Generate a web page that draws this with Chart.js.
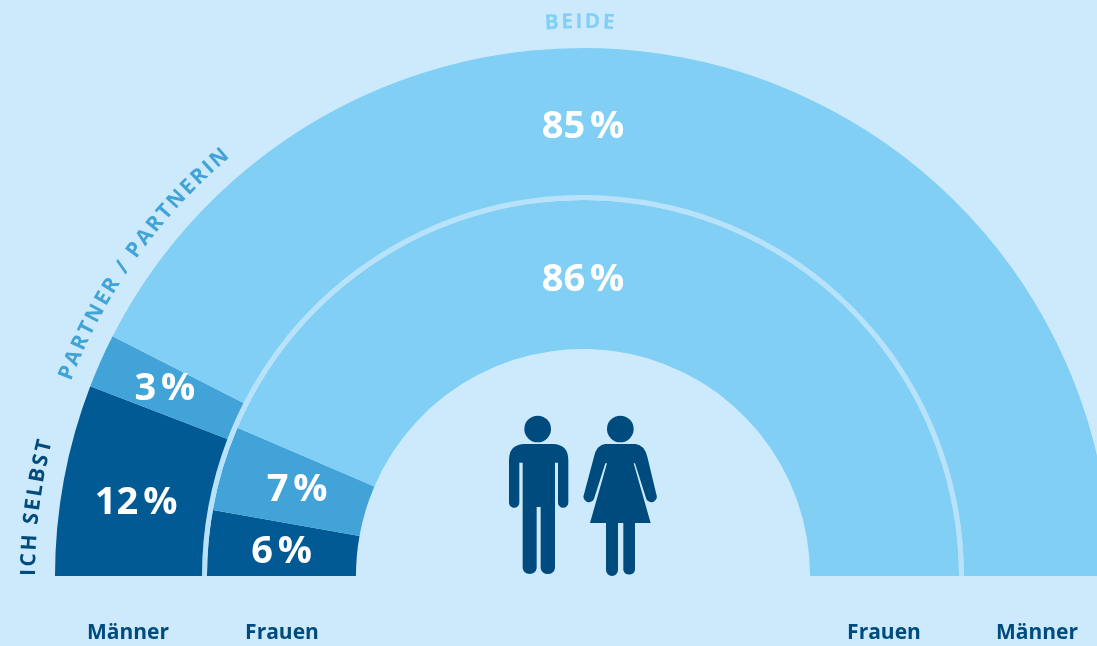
<!DOCTYPE html>
<html lang="de">
<head>
<meta charset="utf-8">
<style>
html,body{margin:0;padding:0;background:#cdeafd;overflow:hidden}
#wrap{position:relative;width:1097px;height:646px;overflow:hidden;background:#cdeafd}
#box{position:absolute;left:0;top:0;width:1166px;height:646px}
svg{position:absolute;left:0;top:0}
.c{font-family:"Open Sans",sans-serif;font-weight:700;font-size:21px;letter-spacing:2.3px}
</style>
</head>
<body>
<div id="wrap">
<div id="box"><canvas id="c"></canvas></div>
<svg width="1097" height="646" viewBox="0 0 1097 646">
  <defs><path id="arc" d="M35 576 A548 548 0 0 1 1131 576" fill="none"/></defs>
  <text class="c" fill="#004b7d"><textPath href="#arc" startOffset="0">ICH SELBST</textPath></text>
  <text class="c" fill="#41a3d7"><textPath href="#arc" startOffset="199">PARTNER / PARTNERIN</textPath></text>
  <text class="c" fill="#81cff5" text-anchor="middle"><textPath href="#arc" startOffset="49.87%">BEIDE</textPath></text>
  <g transform="translate(490 400) scale(0.3333)" fill="#004b7d">
    <circle cx="143" cy="87" r="40"/>
    <path d="M100 132H192Q235 135 235 180V308A15.500 15.500 0 0 1 204 308V188H195V505A22 22 0 0 1 152 505V321H140V505A21.500 21.500 0 0 1 98 505V188H88V308A15.500 15.500 0 0 1 57 308V180Q57 135 100 132Z"/>
    <circle cx="391" cy="87" r="40"/>
    <path d="M345 132H437Q463 135 472 170L499 283A15.500 15.500 0 0 1 469 297L435 190H431L482 369H435V510A18 18 0 0 1 400 510V369H384V510A18 18 0 0 1 348 510V369H300L351 190H346L312 297A15.500 15.500 0 0 1 282 283L312 170Q320 135 345 132Z"/>
  </g>
</svg>
</div>
<script src="https://cdn.jsdelivr.net/npm/chart.js@4"></script>
<script>
const antworten = ["Ich selbst", "Partner / Partnerin", "Beide"];
const maenner = [11.7, 3.3, 85];
const frauen = [5.55, 7.2, 86];
const achse = ["Männer", "Frauen", "Frauen", "Männer"];

const farben = ["#015a94", "#41a3d7", "#81cff5"];
const DARK = "#004b7d";

// fine placement of the percentage labels relative to the middle of their slice
const versatz = {
  0: [[0, 10.5], [-3, -1.5], [0, 6]],
  2: [[-1, 3], [3, 1], [0, 6]]
};

const texte = {
  id: "texte",
  afterDatasetsDraw(chart) {
    const ctx = chart.ctx;
    ctx.save();
    ctx.textAlign = "center";
    ctx.textBaseline = "middle";
    ctx.fillStyle = "#fff";
    ctx.font = '700 38px "Open Sans", sans-serif';
    ctx.wordSpacing = "-5px";
    [[0, maenner], [2, frauen]].forEach(([ds, werte]) => {
      chart.getDatasetMeta(ds).data.forEach((arc, i) => {
        const r = (arc.innerRadius + arc.outerRadius) / 2;
        // the large slice carries its label at the top of the arch
        const a = i === 2 ? -Math.PI / 2 : (arc.startAngle + arc.endAngle) / 2;
        const [dx, dy] = versatz[ds][i];
        ctx.fillText(Math.round(werte[i]) + " %", arc.x + r * Math.cos(a) + dx, arc.y + r * Math.sin(a) + dy);
      });
    });
    ctx.wordSpacing = "0px";
    ctx.fillStyle = DARK;
    ctx.font = '700 21px "Open Sans", sans-serif';
    const xs = [128, 282, 884, 1037];
    achse.forEach((t, i) => ctx.fillText(t, xs[i], 633));
    ctx.restore();
  }
};

new Chart(document.getElementById("c"), {
  type: "doughnut",
  data: {
    labels: antworten,
    datasets: [
      { label: "Männer", data: maenner, backgroundColor: farben, borderWidth: 0, weight: 147 },
      { label: "Trennring", data: [1], backgroundColor: ["#b8e2fa"], borderWidth: 0, weight: 5 },
      { label: "Frauen", data: frauen, backgroundColor: farben, borderWidth: 0, weight: 149 }
    ]
  },
  options: {
    responsive: true,
    maintainAspectRatio: false,
    animation: false,
    rotation: -90,
    circumference: 180,
    cutout: "43%",
    layout: { padding: { left: 55, right: 55, top: 48, bottom: 70 } },
    events: [],
    plugins: { legend: { display: false }, tooltip: { enabled: false } }
  },
  plugins: [texte]
});
</script>
</body>
</html>
